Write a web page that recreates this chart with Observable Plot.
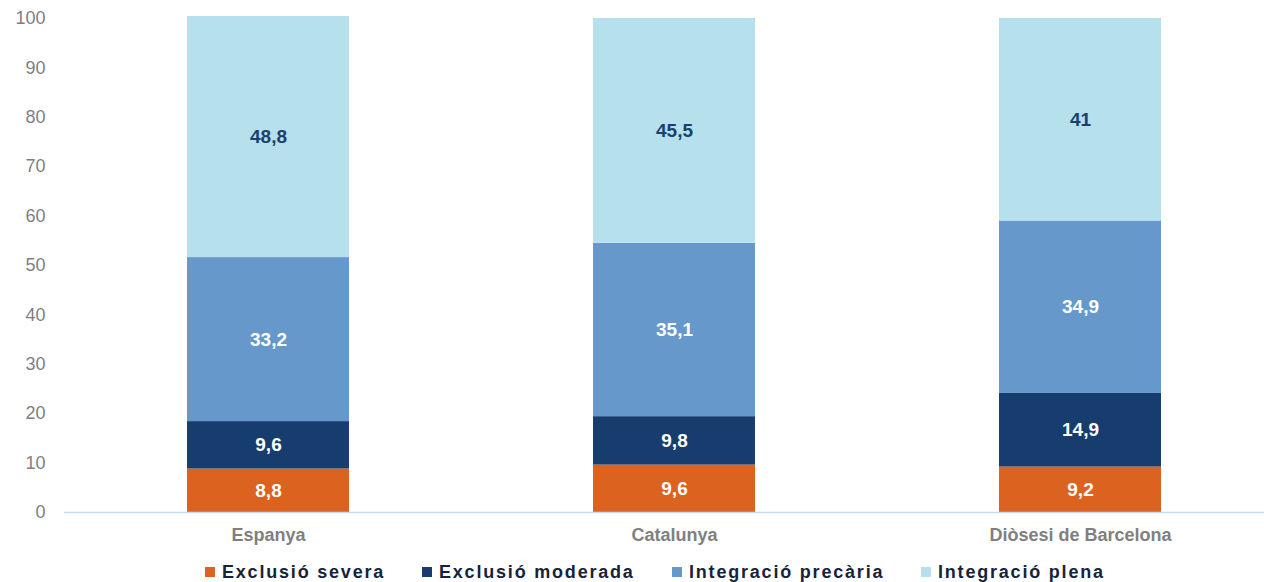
<!DOCTYPE html>
<html>
<head>
<meta charset="utf-8">
<script src="https://cdn.jsdelivr.net/npm/d3@7"></script>
<script src="https://cdn.jsdelivr.net/npm/@observablehq/plot@0.6"></script>
<style>
  html, body { margin: 0; padding: 0; background: #fff; overflow: hidden; }
  #wrap { position: relative; width: 1264px; height: 582px; overflow: hidden; font-family: "Liberation Sans", Arial, sans-serif; }
  #chart svg { max-width: none !important; }
  #legend { position: absolute; left: 0; top: 560px; width: 1264px; height: 24px; }
  .item { position: absolute; top: 0; display: flex; align-items: center; height: 24px; font-weight: bold; font-size: 18px; letter-spacing: 1.8px; color: #16233a; white-space: nowrap; }
  .sw { width: 10px; height: 10px; margin-right: 7px; flex: none; }
</style>
</head>
<body>
<div id="wrap"><div id="chart"></div><div id="legend"></div></div>
<script>
const categories = ["Espanya", "Catalunya", "Diòsesi de Barcelona"];
const series = ["Exclusió severa", "Exclusió moderada", "Integració precària", "Integració plena"];
const exclusioSevera = [8.8, 9.6, 9.2];
const exclusioModerada = [9.6, 9.8, 14.9];
const integracioPrecaria = [33.2, 35.1, 34.9];
const integracioPlena = [48.8, 45.5, 41];
const yTicks = [0, 10, 20, 30, 40, 50, 60, 70, 80, 90, 100];
const colors = ["#dc6220", "#163d6e", "#6698cb", "#b6e0ec"];
const labelColors = ["#ffffff", "#ffffff", "#ffffff", "#1b3f6e"];
const legendLeft = [205, 422, 672, 921];

const valuesBySeries = [exclusioSevera, exclusioModerada, integracioPrecaria, integracioPlena];
const data = [];
series.forEach((s, si) => {
  categories.forEach((c, ci) => {
    data.push({category: c, series: s, value: valuesBySeries[si][ci], labelColor: labelColors[si]});
  });
});
const fmt = d => String(d).replace(".", ",");

const chart = Plot.plot({
  width: 1284,
  height: 556,
  marginLeft: 64,
  marginRight: 0,
  marginTop: 18,
  marginBottom: 44,
  style: {fontFamily: "'Liberation Sans', Arial, sans-serif", background: "#fff", overflow: "visible", maxWidth: "none"},
  x: {domain: categories, paddingInner: 0.6, paddingOuter: 0.3, label: null},
  y: {domain: [0, 100], label: null},
  color: {domain: series, range: colors},
  marks: [
    Plot.barY(data, {x: "category", y: "value", fill: "series", z: "series", order: series}),
    Plot.text(data, Plot.stackY({x: "category", y: "value", z: "series", order: series, text: d => fmt(d.value), fill: "labelColor", fontWeight: "bold", fontSize: 19, letterSpacing: 1.8})),
    Plot.ruleY([0], {stroke: "#c6dcf3", strokeWidth: 1.5}),
    Plot.axisY({ticks: yTicks, tickSize: 0, tickPadding: 19, fontSize: 18, fill: "#7f7f7f", letterSpacing: 0.8, label: null, tickFormat: d => d}),
    Plot.axisX({tickSize: 0, tickPadding: 16, fontSize: 18, fontWeight: "bold", fill: "#7f7f7f", letterSpacing: 2.2, label: null})
  ]
});
document.getElementById("chart").appendChild(chart);

const legend = document.getElementById("legend");
series.forEach((s, i) => {
  const item = document.createElement("div");
  item.className = "item";
  item.style.left = legendLeft[i] + "px";
  const sw = document.createElement("span");
  sw.className = "sw";
  sw.style.background = colors[i];
  const t = document.createElement("span");
  t.textContent = s;
  item.appendChild(sw);
  item.appendChild(t);
  legend.appendChild(item);
});
</script>
</body>
</html>
